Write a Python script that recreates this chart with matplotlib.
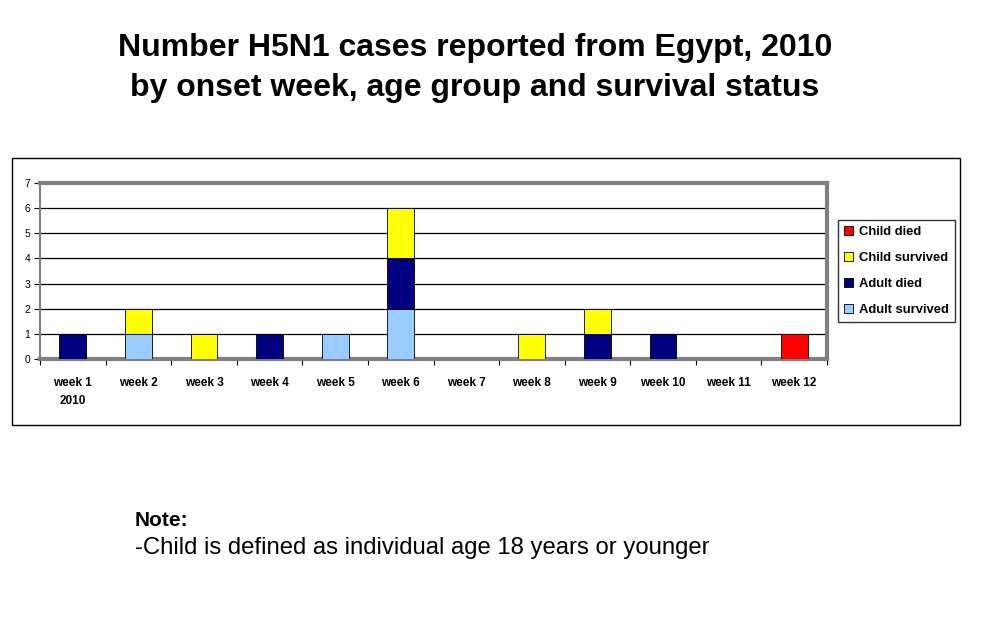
import matplotlib.pyplot as plt
from matplotlib.patches import Rectangle
import numpy as np

plt.rcParams['font.family'] = ['Liberation Sans', 'DejaVu Sans']

weeks = ['week 1\n2010', 'week 2', 'week 3', 'week 4', 'week 5', 'week 6',
         'week 7', 'week 8', 'week 9', 'week 10', 'week 11', 'week 12']
adult_survived = [0, 1, 0, 0, 1, 2, 0, 0, 0, 0, 0, 0]
adult_died = [1, 0, 0, 1, 0, 2, 0, 0, 1, 1, 0, 0]
child_survived = [0, 1, 1, 0, 0, 2, 0, 1, 1, 0, 0, 0]
child_died = [0, 0, 0, 0, 0, 0, 0, 0, 0, 0, 0, 1]

W, H = 1006, 624
fig = plt.figure(figsize=(W / 100, H / 100), dpi=100)

# outer chart box
fig.patches.append(Rectangle((12 / W, 1 - 425 / H), (960 - 12) / W, (425 - 158) / H,
                             transform=fig.transFigure, fill=False,
                             edgecolor='black', linewidth=1))

ax = fig.add_axes([40 / W, 1 - 359 / H, (827 - 40) / W, (359 - 183) / H])

x = np.arange(len(weeks))
series = [
    ('Adult survived', adult_survived, '#99CCFF'),
    ('Adult died', adult_died, '#000080'),
    ('Child survived', child_survived, '#FFFF00'),
    ('Child died', child_died, '#FF0000'),
]
bottom = np.zeros(len(weeks))
handles = []
for name, vals, col in series:
    vals = np.array(vals)
    b = ax.bar(x, vals, width=0.41, bottom=bottom, color=col,
               edgecolor='black', linewidth=0.6, label=name, zorder=3)
    handles.append(b)
    bottom += vals

ax.set_xlim(-0.5, len(weeks) - 0.5)
ax.set_ylim(0, 7)
ax.set_yticks(range(8))
ax.yaxis.grid(True, color='black', linewidth=0.9, zorder=0)
ax.set_axisbelow(True)

for s in ['top', 'right', 'bottom']:
    ax.spines[s].set_color('#808080')
    ax.spines[s].set_linewidth(3)
ax.spines['left'].set_color('#808080')
ax.spines['left'].set_linewidth(1.5)

ax.set_xticks(np.arange(len(weeks) + 1) - 0.5, minor=False)
ax.set_xticklabels([])
ax.set_xticks(x, minor=True)
ax.set_xticklabels(weeks, minor=True, fontsize=8.5, fontweight='bold',
                   linespacing=1.7)
ax.tick_params(axis='x', which='major', length=4, color='black', width=0.8)
ax.tick_params(axis='x', which='minor', length=0, pad=13)
ax.tick_params(axis='y', labelsize=7.5, length=4, width=0.8, pad=3)

leg = ax.legend(handles[::-1], [h.get_label() for h in handles[::-1]],
                loc='upper left', bbox_to_anchor=(838 / W, 1 - 220 / H),
                bbox_transform=fig.transFigure, frameon=True, fancybox=False,
                edgecolor='black', fontsize=9.4, handlelength=0.7,
                handleheight=0.7, handletextpad=0.4, labelspacing=1.05,
                borderpad=0.48, borderaxespad=0)
leg.get_frame().set_linewidth(1)
for t in leg.get_texts():
    t.set_fontweight('bold')

fig.text(475 / W, 1 - 48 / H, 'Number H5N1 cases reported from Egypt, 2010',
         ha='center', va='center', fontsize=23, fontweight='bold')
fig.text(475 / W, 1 - 88 / H, 'by onset week, age group and survival status',
         ha='center', va='center', fontsize=23, fontweight='bold')

fig.text(135 / W, 1 - 520 / H, 'Note:', ha='left', va='center',
         fontsize=15, fontweight='bold')
fig.text(135 / W, 1 - 548 / H, '-Child is defined as individual age 18 years or younger',
         ha='left', va='center', fontsize=17.2)

fig.savefig('out.png', dpi=100)
